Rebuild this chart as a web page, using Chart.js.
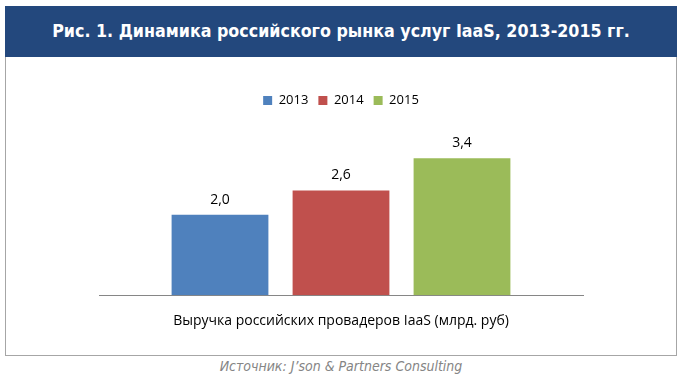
<!DOCTYPE html>
<html>
<head>
<meta charset="utf-8">
<script src="https://cdn.jsdelivr.net/npm/chart.js@4"></script>
<style>
body { margin: 0; background: #fff; width: 682px; height: 383px; position: relative; overflow: hidden; }
#frame { position: absolute; left: 5px; top: 6px; width: 670px; height: 348px; border: 1px solid #a6a6a6; }
#title { position: absolute; left: -1px; top: -1px; width: 672px; height: 51px; background: #23487d; color: #fff;
  font: bold 17.7px "DejaVu Sans Condensed", "DejaVu Sans"; font-stretch: condensed; text-align: center; line-height: 51px; }
#box { position: absolute; left: 0; top: 51px; width: 670px; height: 296px; }
#source { position: absolute; left: 0; top: 357px; width: 682px; text-align: center; color: #858585;
  font: italic 14px "DejaVu Sans Condensed", "DejaVu Sans"; font-stretch: condensed; line-height: 18px; }
</style>
</head>
<body>
<div id="frame">
  <div id="title">Рис. 1. Динамика российского рынка услуг IaaS, 2013-2015 гг.</div>
  <div id="box"><canvas id="chart"></canvas></div>
</div>
<div id="source">Источник: J’son &amp; Partners Consulting</div>
<script>
var categories = ["Выручка российских провадеров IaaS (млрд. руб)"];
var years = ["2013", "2014", "2015"];
var revenue = [2.0, 2.6, 3.4];
var colors = ["#4f81bd", "#c0504d", "#9bbb59"];

var valueLabels = {
    id: "valueLabels",
    afterDatasetsDraw: function(chart) {
        var ctx = chart.ctx;
        ctx.save();
        ctx.font = '14px "Open Sans"';
        ctx.fillStyle = "#000";
        ctx.textAlign = "center";
        ctx.textBaseline = "middle";
        chart.data.datasets.forEach(function(ds, i) {
            chart.getDatasetMeta(i).data.forEach(function(bar, j) {
                ctx.fillText(ds.data[j].toFixed(1).replace(".", ","), bar.x, bar.y - 15);
            });
        });
        ctx.restore();
    }
};

var ctx = document.getElementById("chart").getContext("2d");

new Chart(ctx, {
    type: "bar",
    data: {
        labels: categories,
        datasets: years.map(function(y, i) {
            return {
                label: y,
                data: [revenue[i]],
                backgroundColor: colors[i],
                borderWidth: 0,
                categoryPercentage: 0.75,
                barPercentage: 0.8
            };
        })
    },
    plugins: [valueLabels],
    options: {
        responsive: true,
        maintainAspectRatio: false,
        animation: false,
        layout: {
            padding: { top: 26, left: 93, right: 93, bottom: 8 }
        },
        plugins: {
            legend: {
                position: "top",
                labels: {
                    boxWidth: 9,
                    boxHeight: 9,
                    padding: 10,
                    color: "#000",
                    font: { size: 13, family: "Open Sans" }
                }
            },
            tooltip: { enabled: false }
        },
        scales: {
            y: {
                display: false,
                min: 0,
                max: 4.425
            },
            x: {
                grid: { display: false, drawTicks: false },
                border: { display: true, color: "#868686", width: 1 },
                ticks: {
                    padding: 17,
                    color: "#000",
                    font: { size: 14, family: "Open Sans", lineHeight: 1.2 }
                }
            }
        }
    }
});
</script>
</body>
</html>
